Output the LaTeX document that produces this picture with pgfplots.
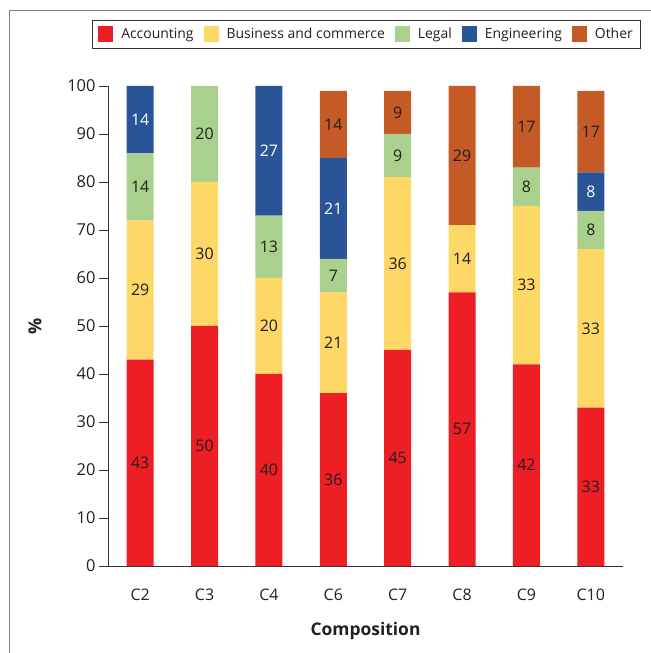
\documentclass[border=0pt]{standalone}
\usepackage{pgfplots}
\pgfplotsset{compat=1.18}
\usepackage{fontspec}
\setmainfont{Open Sans}
\definecolor{cAcc}{RGB}{237,30,36}
\definecolor{cBus}{RGB}{254,216,102}
\definecolor{cLeg}{RGB}{170,208,142}
\definecolor{cEng}{RGB}{42,84,152}
\definecolor{cOth}{RGB}{196,90,38}
\definecolor{txt}{RGB}{35,31,32}
\begin{document}
\begin{tikzpicture}[x=1bp,y=1bp]
\path[use as bounding box] (0,0) rectangle (651,653);
\draw[color=black!50, line width=1.3bp] (9.5,0) -- (9.5,642.5) -- (651,642.5);
\begin{axis}[
  at={(108bp,87bp)}, anchor=south west,
  scale only axis, width=515bp, height=480bp,
  ybar stacked, bar width=0.42,
  xmin=-0.5, xmax=7.5, ymin=0, ymax=100,
  xtick={0,...,7},
  xticklabels={C2,C3,C4,C6,C7,C8,C9,C10},
  xtick style={draw=none},
  extra x ticks={-0.5,0.5,...,7.5},
  extra x tick labels={},
  extra x tick style={tick style={draw=black!80, line width=0.9bp}},
  ytick={0,10,...,100},
  axis x line*=bottom, axis y line*=left,
  axis line style={-, draw=black!80, line width=0.9bp},
  ytick style={draw=black!80, line width=0.9bp},
  tick align=outside,
  major tick length=9bp,
  /pgf/number format/assume math mode=true,
  yticklabel style={font=\fontsize{16.5}{18}\selectfont, text=txt},
  xticklabel style={font=\fontsize{16}{18}\selectfont, text=txt, yshift=-10bp},
  ylabel={\textbf{\%}}, ylabel style={font=\fontsize{18}{20}\selectfont, text=txt, at={(-73bp,0.5)}, anchor=center, rotate=0},
  xlabel={\textbf{Composition}}, xlabel style={font=\fontsize{17.5}{19}\selectfont, text=txt, at={(0.5,-65bp)}, anchor=center},
  point meta=rawy,
  nodes near coords={\pgfmathfloatifflags{\pgfplotspointmeta}{0}{}{\pgfmathprintnumber{\pgfplotspointmeta}}},
  every node near coord/.append style={font=\fontsize{16}{18}\selectfont, text=txt},
  legend columns=5,
  legend style={at={(0.502,1.108)}, anchor=center, draw=black!80, line width=0.8bp,
    font=\fontsize{14}{16}\selectfont, text=txt, inner xsep=6bp, inner ysep=6bp,
    /tikz/every odd column/.append style={column sep=6bp},
    /tikz/every even column/.append style={column sep=8bp}},
  legend image code/.code={\fill[#1] (0bp,-8bp) rectangle (15bp,8bp);},
]
\addplot[fill=cAcc, draw=none] coordinates {(0,43) (1,50) (2,40) (3,36) (4,45) (5,57) (6,42) (7,33)};
\addplot[fill=cBus, draw=none] coordinates {(0,29) (1,30) (2,20) (3,21) (4,36) (5,14) (6,33) (7,33)};
\addplot[fill=cLeg, draw=none] coordinates {(0,14) (1,20) (2,13) (3,7) (4,9) (5,0) (6,8) (7,8)};
\addplot[fill=cEng, draw=none, every node near coord/.append style={text=white}] coordinates {(0,14) (1,0) (2,27) (3,21) (4,0) (5,0) (6,0) (7,8)};
\addplot[fill=cOth, draw=none] coordinates {(0,0) (1,0) (2,0) (3,14) (4,9) (5,29) (6,17) (7,17)};
\legend{Accounting, Business and commerce, Legal, Engineering, Other}
\end{axis}
\end{tikzpicture}
\end{document}
